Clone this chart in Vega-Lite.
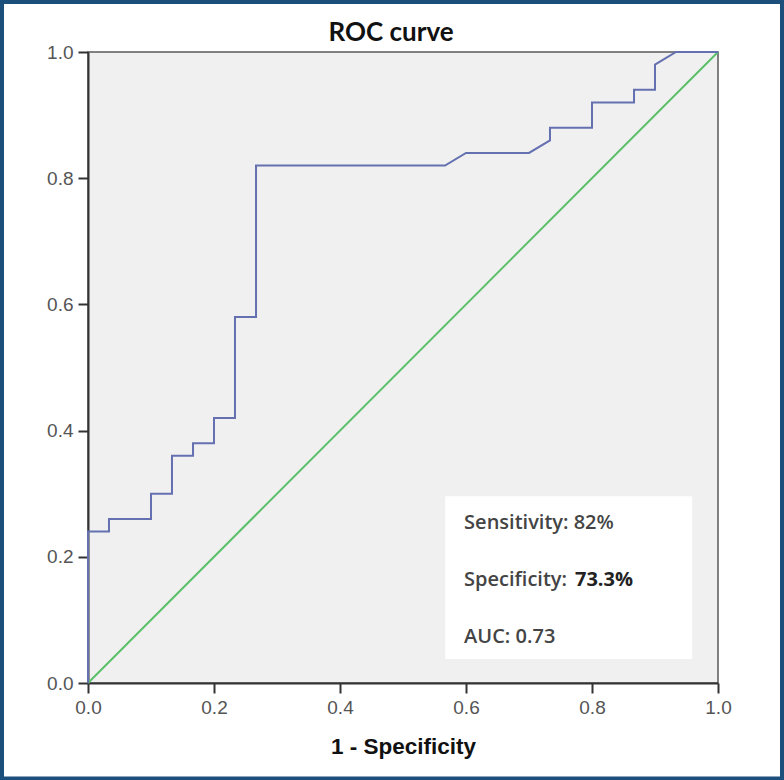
{
  "$schema": "https://vega.github.io/schema/vega-lite/v6.json",
  "autosize": "none",
  "width": 630,
  "height": 631,
  "padding": {"left": 88, "top": 52, "right": 66, "bottom": 97},
  "background": "white",
  "config": {
    "view": {"fill": "#f0f0f0", "stroke": "#5a5a5a", "strokeWidth": 1.5},
    "axis": {"grid": false, "labelFlush": false, "domainColor": "#333333", "domainWidth": 2, "tickColor": "#333333", "tickWidth": 2, "tickSize": 10, "labelFont": "Liberation Sans", "labelFontSize": 19, "labelColor": "#555555"}
  },
  "datasets": {
    "roc": [
      {"i": 0, "fpr": 0, "tpr": 0},
      {"i": 1, "fpr": 0, "tpr": 0.24},
      {"i": 2, "fpr": 0.0333, "tpr": 0.24},
      {"i": 3, "fpr": 0.0333, "tpr": 0.26},
      {"i": 4, "fpr": 0.1, "tpr": 0.26},
      {"i": 5, "fpr": 0.1, "tpr": 0.30},
      {"i": 6, "fpr": 0.1333, "tpr": 0.30},
      {"i": 7, "fpr": 0.1333, "tpr": 0.36},
      {"i": 8, "fpr": 0.1667, "tpr": 0.36},
      {"i": 9, "fpr": 0.1667, "tpr": 0.38},
      {"i": 10, "fpr": 0.2, "tpr": 0.38},
      {"i": 11, "fpr": 0.2, "tpr": 0.42},
      {"i": 12, "fpr": 0.2333, "tpr": 0.42},
      {"i": 13, "fpr": 0.2333, "tpr": 0.58},
      {"i": 14, "fpr": 0.2667, "tpr": 0.58},
      {"i": 15, "fpr": 0.2667, "tpr": 0.82},
      {"i": 16, "fpr": 0.5667, "tpr": 0.82},
      {"i": 17, "fpr": 0.6, "tpr": 0.84},
      {"i": 18, "fpr": 0.7, "tpr": 0.84},
      {"i": 19, "fpr": 0.7333, "tpr": 0.86},
      {"i": 20, "fpr": 0.7333, "tpr": 0.88},
      {"i": 21, "fpr": 0.8, "tpr": 0.88},
      {"i": 22, "fpr": 0.8, "tpr": 0.92},
      {"i": 23, "fpr": 0.8667, "tpr": 0.92},
      {"i": 24, "fpr": 0.8667, "tpr": 0.94},
      {"i": 25, "fpr": 0.9, "tpr": 0.94},
      {"i": 26, "fpr": 0.9, "tpr": 0.98},
      {"i": 27, "fpr": 0.9333, "tpr": 1.0},
      {"i": 28, "fpr": 1, "tpr": 1}
    ],
    "ref": [
      {"fpr": 0, "tpr": 0},
      {"fpr": 1, "tpr": 1}
    ],
    "one": [{"k": 1}]
  },
  "layer": [
    {
      "data": {"name": "one"},
      "mark": {"type": "rect", "fill": "#ffffff"},
      "encoding": {
        "x": {"datum": 0.567, "type": "quantitative", "title": "1 - Specificity", "scale": {"domain": [0, 1], "nice": false}},
        "x2": {"datum": 0.959},
        "y": {"datum": 0.296, "type": "quantitative", "title": null, "scale": {"domain": [0, 1], "nice": false}},
        "y2": {"datum": 0.038}
      }
    },
    {
      "data": {"name": "ref"},
      "mark": {"type": "line", "color": "#5cc06a", "strokeWidth": 2},
      "encoding": {
        "x": {"field": "fpr", "type": "quantitative", "title": "1 - Specificity", "scale": {"domain": [0, 1], "nice": false}},
        "y": {"field": "tpr", "type": "quantitative", "title": null, "scale": {"domain": [0, 1], "nice": false}}
      }
    },
    {
      "data": {"name": "roc"},
      "mark": {"type": "line", "color": "#6470b0", "strokeWidth": 2},
      "encoding": {
        "x": {"field": "fpr", "type": "quantitative", "title": "1 - Specificity", "scale": {"domain": [0, 1], "nice": false},
              "axis": {"titleFont": "Liberation Sans", "titleFontSize": 22.5, "titleFontWeight": "bold", "titleColor": "#111111", "titlePadding": 18, "values": [0, 0.2, 0.4, 0.6, 0.8, 1.0], "format": ".1f", "labelPadding": 5}},
        "y": {"field": "tpr", "type": "quantitative", "title": null, "scale": {"domain": [0, 1], "nice": false},
              "axis": {"values": [0, 0.2, 0.4, 0.6, 0.8, 1.0], "format": ".1f", "labelPadding": 5}},
        "order": {"field": "i", "type": "quantitative"}
      }
    },
    {
      "data": {"name": "one"},
      "mark": {"type": "text", "text": "Sensitivity: 82%", "align": "left", "baseline": "middle", "font": "Open Sans", "fontSize": 20, "fontWeight": 600, "color": "#444444"},
      "encoding": {
        "x": {"datum": 0.597, "type": "quantitative", "title": "1 - Specificity", "scale": {"domain": [0, 1], "nice": false}},
        "y": {"datum": 0.2536, "type": "quantitative", "title": null, "scale": {"domain": [0, 1], "nice": false}}
      }
    },
    {
      "data": {"name": "one"},
      "mark": {"type": "text", "text": "Specificity:", "align": "left", "baseline": "middle", "font": "Open Sans", "fontSize": 20, "fontWeight": 600, "color": "#444444"},
      "encoding": {
        "x": {"datum": 0.597, "type": "quantitative", "title": "1 - Specificity", "scale": {"domain": [0, 1], "nice": false}},
        "y": {"datum": 0.1632, "type": "quantitative", "title": null, "scale": {"domain": [0, 1], "nice": false}}
      }
    },
    {
      "data": {"name": "one"},
      "mark": {"type": "text", "text": "73.3%", "align": "left", "baseline": "middle", "font": "Open Sans", "fontSize": 20, "fontWeight": "bold", "color": "#222222"},
      "encoding": {
        "x": {"datum": 0.773, "type": "quantitative", "title": "1 - Specificity", "scale": {"domain": [0, 1], "nice": false}},
        "y": {"datum": 0.1632, "type": "quantitative", "title": null, "scale": {"domain": [0, 1], "nice": false}}
      }
    },
    {
      "data": {"name": "one"},
      "mark": {"type": "text", "text": "AUC: 0.73", "align": "left", "baseline": "middle", "font": "Open Sans", "fontSize": 20, "fontWeight": 600, "color": "#444444"},
      "encoding": {
        "x": {"datum": 0.597, "type": "quantitative", "title": "1 - Specificity", "scale": {"domain": [0, 1], "nice": false}},
        "y": {"datum": 0.0729, "type": "quantitative", "title": null, "scale": {"domain": [0, 1], "nice": false}}
      }
    },
    {
      "data": {"name": "one"},
      "mark": {"type": "text", "text": "ROC curve", "align": "center", "baseline": "middle", "font": "Lato", "fontSize": 26, "fontWeight": "bold", "color": "#111111", "clip": false},
      "encoding": {
        "x": {"datum": 0.481, "type": "quantitative", "title": "1 - Specificity", "scale": {"domain": [0, 1], "nice": false}},
        "y": {"datum": 1.0301, "type": "quantitative", "title": null, "scale": {"domain": [0, 1], "nice": false}}
      }
    },
    {
      "data": {"name": "one"},
      "mark": {"type": "rect", "fill": null, "stroke": "#1d4f7c", "strokeWidth": 4, "clip": false},
      "encoding": {
        "x": {"datum": -0.1365, "type": "quantitative", "title": "1 - Specificity", "scale": {"domain": [0, 1], "nice": false}},
        "x2": {"datum": 1.1016},
        "y": {"datum": 1.0792, "type": "quantitative", "title": null, "scale": {"domain": [0, 1], "nice": false}},
        "y2": {"datum": -0.1513}
      }
    }
  ]
}
